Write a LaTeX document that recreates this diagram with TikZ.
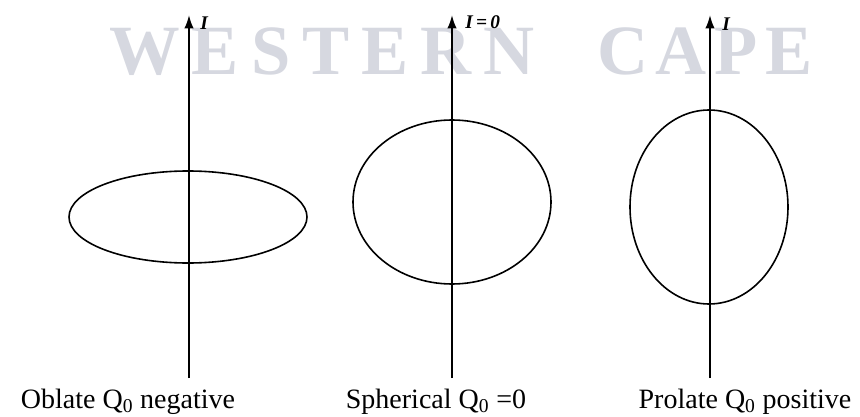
\documentclass[tikz,border=0pt]{standalone}
\usepackage{fontspec}
\setmainfont{Liberation Serif}
\usepackage{xcolor}
\usepackage{tikz}
\usetikzlibrary{
  arrows.meta,
  shapes.geometric,
  positioning
}
\definecolor{xstamp}{RGB}{214,216,224}

\begin{document}
\begin{tikzpicture}[
  x=0.75pt, y=-0.75pt,
  shell/.style={draw, ellipse, line width=1.2pt, inner sep=0pt},
  axis/.style={-{Latex[length=10pt,width=7pt]}, line width=1.4pt},
  caption/.style={font=\fontsize{21}{24}\selectfont, anchor=base, inner sep=0pt},
  spin/.style={font=\fontsize{14.5}{16}\selectfont\bfseries\itshape, anchor=west, inner sep=0pt},
  stamp/.style={font=\fontsize{53}{60}\selectfont\bfseries\addfontfeature{LetterSpace=#1},
                text=xstamp, anchor=base west, inner sep=0pt}
]
  \useasboundingbox (0,0) rectangle (860,417);

  % watermark of the scan
  \node[stamp=17] (west) at (109,75) {WESTERN};
  \node[stamp=11] (cape) at (597,75) {CAPE};

  % symmetry axes
  \coordinate (base-o) at (189,378);  \coordinate (tip-o) at (189,15);
  \coordinate (base-s) at (452,378);  \coordinate (tip-s) at (452,15);
  \coordinate (base-p) at (710,378);  \coordinate (tip-p) at (710,15);

  \foreach \n in {o,s,p}
    \draw[axis] (base-\n) -- (tip-\n);

  \node[spin] (spin-o) at (200,23) {I};
  \node[spin] (spin-s) at (465,22) {I\,=\,0};
  \node[spin] (spin-p) at (722,24) {I};

  % nuclear shapes
  \node[shell, minimum width=178.5pt, minimum height=69pt]    (oblate)    at (188,217) {};
  \node[shell, minimum width=148.5pt, minimum height=123pt]   (spherical) at (452,202) {};
  \node[shell, minimum width=118.5pt, minimum height=145.5pt] (prolate)   at (709,207) {};

  \node[caption] (cap-o) at (128,408) {Oblate Q\textsubscript{0} negative};
  \node[caption] (cap-s) at (436,408) {Spherical Q\textsubscript{0} =0};
  \node[caption] (cap-p) at (745,408) {Prolate Q\textsubscript{0} positive};
\end{tikzpicture}
\end{document}
